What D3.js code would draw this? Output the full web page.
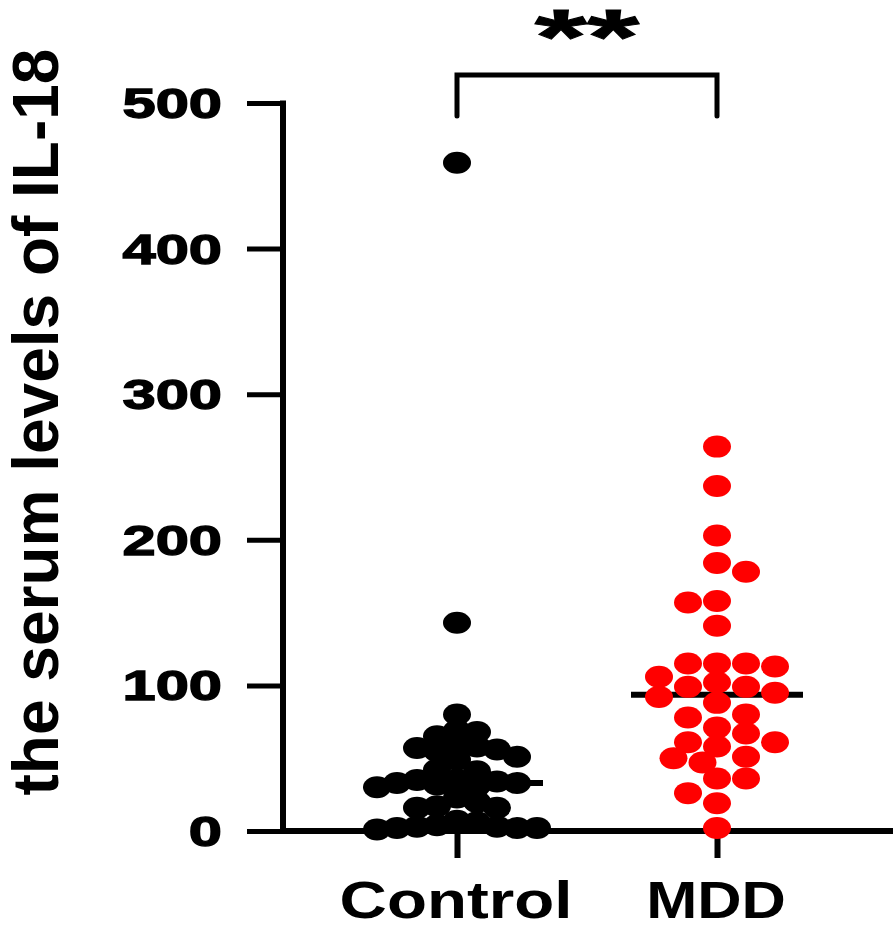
<!DOCTYPE html>
<html>
<head>
<meta charset="utf-8">
<script src="https://cdn.jsdelivr.net/npm/d3@7"></script>
<style>
  html, body { margin: 0; padding: 0; background: #fff; }
  svg { display: block; }
  text { font-family: "Liberation Sans", Arial, sans-serif; font-weight: bold; fill: #000; }
</style>
</head>
<body>
<svg id="chart" width="893" height="928"></svg>
<script>
// ---- data ----
const categories = ["Control", "MDD"];
const controlValues = [459, 143, 80, 69, 68, 65, 59, 58, 57, 56, 55, 51, 49, 42, 41, 35, 35, 34, 33, 33, 32, 31, 30, 23, 20, 17, 16, 16, 7, 6, 4, 3, 3, 2, 2, 2, 1];
const mddValues = [264, 237, 203, 184, 178, 158, 157, 141, 115, 115, 115, 113, 106, 102, 99, 99, 95, 92, 88, 80, 78, 71, 67, 61, 61, 58, 51, 50, 47, 36, 36, 26, 19, 2];
const yTicks = [0, 100, 200, 300, 400, 500];
const yTitle = "the serum levels of IL-18";
const significance = "**";
const groupColors = ["#000000", "#ff0000"];

// ---- layout ----
const svg = d3.select("#chart");
const y = d3.scaleLinear().domain([0, 500]).range([831, 103]);
const x = d3.scalePoint().domain(categories).range([457, 717]);
const axisX0 = 283, axisRight = 893;
const rx = 14, ry = 11;
const strokeW = 5;

// axes
const gy = svg.append("g").attr("transform", `translate(${axisX0},0)`)
  .call(d3.axisLeft(y).tickValues(yTicks).tickSize(36).tickFormat(""));
gy.select(".domain").remove();
gy.selectAll(".tick line").attr("stroke", "#000").attr("stroke-width", strokeW);
svg.append("line").attr("x1", axisX0).attr("x2", axisX0)
  .attr("y1", y(500) - 2.5).attr("y2", y(0) + 2.5)
  .attr("stroke", "#000").attr("stroke-width", strokeW + 1);

yTicks.forEach(t => {
  svg.append("g").attr("transform", `translate(222,${y(t) + 15})`)
    .append("text").attr("text-anchor", "end").attr("font-size", 42)
    .attr("stroke", "#000").attr("stroke-width", 1.3)
    .attr("transform", "scale(1.42,1)").text(t);
});

const gx = svg.append("g").attr("transform", `translate(0,${y(0)})`)
  .call(d3.axisBottom(x).tickSize(27).tickFormat(""));
gx.select(".domain").remove();
gx.selectAll(".tick line").attr("stroke", "#000").attr("stroke-width", strokeW + 1);
svg.append("line").attr("x1", axisX0).attr("x2", axisRight)
  .attr("y1", y(0)).attr("y2", y(0))
  .attr("stroke", "#000").attr("stroke-width", strokeW + 1);

const xLabelScale = { Control: 1.26, MDD: 1.18 };
categories.forEach(c => {
  svg.append("g").attr("transform", `translate(${x(c) - 1},918)`)
    .append("text").attr("text-anchor", "middle").attr("font-size", 52)
    .attr("transform", `scale(${xLabelScale[c]},1)`).text(c);
});

svg.append("text").attr("transform", "translate(58,422) rotate(-90)")
  .attr("text-anchor", "middle").attr("font-size", 64).text(yTitle);

// significance bracket
const bracketY = 75, bracketBottom = 116;
svg.append("path")
  .attr("d", `M${x("Control")},${bracketBottom}V${bracketY}H${x("MDD")}V${bracketBottom}`)
  .attr("fill", "none").attr("stroke", "#000").attr("stroke-width", strokeW)
  .attr("stroke-linecap", "round").attr("stroke-linejoin", "miter");
svg.append("g").attr("transform", `translate(${(x("Control") + x("MDD")) / 2},64)`)
  .append("text").attr("text-anchor", "middle").attr("font-size", 78)
  .attr("stroke", "#000").attr("stroke-width", 1)
  .attr("transform", "scale(1.72,1)").text(significance);

// beeswarm placement (computed, not typed)
function swarm(values, cx, h, factor) {
  const fx = 2 * rx * factor, fy = 2 * ry * factor;
  const placed = [];
  const sorted = values.map((v, i) => ({ v, i })).sort((a, b) => b.v - a.v);
  let flip = 1;
  sorted.forEach(d => {
    const py = y(d.v);
    for (let k = 0; k < 60; k++) {
      const cands = k === 0 ? [0] : [flip * k, -flip * k];
      let found = null;
      for (const c of cands) {
        const px = cx + c * h;
        const ok = placed.every(p => ((p.x - px) / fx) ** 2 + ((p.y - py) / fy) ** 2 >= 1);
        if (ok) { found = px; break; }
      }
      if (found !== null) { placed.push({ x: found, y: py, v: d.v }); if (k > 0) flip = -flip; break; }
    }
  });
  return placed;
}

const groups = [controlValues, mddValues];
const swarmStep = [10, 14.5];
const overlap = [0.66, 0.85];
groups.forEach((vals, gi) => {
  const cx = x(categories[gi]);
  const med = d3.median(vals);
  svg.append("line").attr("x1", cx - 86).attr("x2", cx + 86)
    .attr("y1", y(med)).attr("y2", y(med))
    .attr("stroke", "#000").attr("stroke-width", strokeW + 1);
});
groups.forEach((vals, gi) => {
  const cx = x(categories[gi]);
  const pts = swarm(vals, cx, swarmStep[gi], overlap[gi]);
  svg.append("g").selectAll("ellipse").data(pts).join("ellipse")
    .attr("cx", d => d.x).attr("cy", d => d.y)
    .attr("rx", rx).attr("ry", ry).attr("fill", groupColors[gi]);
});
</script>
</body>
</html>
